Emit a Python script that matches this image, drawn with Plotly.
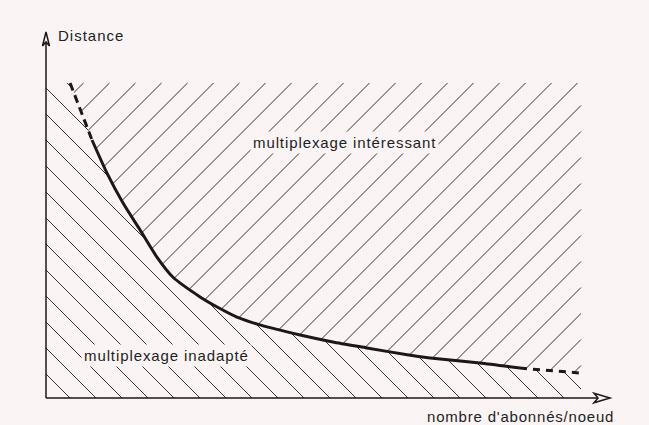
import numpy as np
import plotly.graph_objects as go

# ---------------- data (conceptual units, 0-100 on each axis) ----------------
abonnes = [4.5, 7.9, 8.6, 11.4, 14.4, 17.6, 20.7, 23.7, 28.8, 32.0, 35.7,
           40.0, 47.5, 53.6, 60.0, 67.5, 71.8, 81.1, 88.6, 100.0]
distance = [100.0, 85.1, 81.9, 71.4, 61.9, 53.3, 44.8, 38.4, 32.1, 28.9, 25.7,
            23.2, 20.0, 17.8, 15.9, 13.7, 12.7, 11.1, 9.5, 7.9]
SOLID_START, SOLID_END = 2, 18          # indices where the curve is drawn solid
X_MAX, Y_MAX = 100.0, 100.0             # extent of the hatched zones

x_axis_label = "nombre d'abonnés/noeud"
y_axis_label = "Distance"
zone_haut = "multiplexage intéressant"
zone_bas = "multiplexage inadapté"

# ---------------- layout geometry / styles ----------------
W, H = 649, 425
X0_PX, X100_PX = 46, 581
Y0_PX, Y100_PX = 398, 83
sx = (X100_PX - X0_PX) / 100.0
sy = (Y0_PX - Y100_PX) / 100.0

HATCH_STEP = 26.0        # horizontal spacing of hatch lines (px)
PHASE_UP = 10.5          # (px + py) mod step for "/" lines
PHASE_LOW = 10.0         # (px - py) mod step for "\" lines


def to_x(px):
    return (px - X0_PX) / sx


def to_y(py):
    return (Y0_PX - py) / sy


def px_x(v):
    return X0_PX + np.asarray(v, dtype=float) * sx


def px_y(v):
    return Y0_PX - np.asarray(v, dtype=float) * sy


BG = "#fbf4f4"
HATCH = "#3a3232"
INK = "#1c1818"
TXT = "#221e1e"
FONT = "Liberation Sans, Arial, sans-serif"

# ---------------- hatch geometry derived from the curve ----------------
cx = px_x(abonnes)
cy = px_y(distance)
left_px, right_px = px_x(0), px_x(X_MAX)
top_px, bot_px = px_y(Y_MAX), px_y(0)


def curve_py(p):
    return np.interp(p, cx, cy)


def in_upper(p, q):
    return (p >= cx[0]) & (p <= right_px) & (q >= top_px) & (q <= curve_py(p))


def in_lower(p, q):
    top = np.where(p < cx[0], top_px, curve_py(p))
    return (p >= left_px) & (p <= right_px) & (q <= bot_px) & (q >= top)


def hatch(direction, phase, inside):
    xs, ys = [], []
    p = np.arange(left_px - 1, right_px + 1, 0.05)
    if direction == "/":
        cmin, cmax = left_px + top_px, right_px + bot_px
    else:
        cmin, cmax = left_px - bot_px, right_px - top_px
    k0 = int(np.floor((cmin - phase) / HATCH_STEP)) - 1
    k1 = int(np.ceil((cmax - phase) / HATCH_STEP)) + 1
    for k in range(k0, k1 + 1):
        c = phase + k * HATCH_STEP
        q = c - p if direction == "/" else p - c
        m = inside(p, q)
        if not m.any():
            continue
        idx = np.flatnonzero(m)
        breaks = np.flatnonzero(np.diff(idx) > 1)
        starts = np.r_[idx[0], idx[breaks + 1]]
        ends = np.r_[idx[breaks], idx[-1]]
        for s, e in zip(starts, ends):
            if e - s < 4:
                continue
            xs += [to_x(p[s]), to_x(p[e]), None]
            ys += [to_y(q[s]), to_y(q[e]), None]
    return xs, ys


ux, uy = hatch("/", PHASE_UP, in_upper)
lx, ly = hatch("\\", PHASE_LOW, in_lower)

fig = go.Figure()
fig.add_trace(go.Scatter(x=ux, y=uy, mode="lines",
                         line=dict(color=HATCH, width=1), hoverinfo="skip"))
fig.add_trace(go.Scatter(x=lx, y=ly, mode="lines",
                         line=dict(color=HATCH, width=1), hoverinfo="skip"))

# boundary curve: dashed ends, solid middle
fig.add_trace(go.Scatter(
    x=abonnes[:SOLID_START + 1], y=distance[:SOLID_START + 1], mode="lines",
    line=dict(color=INK, width=3, dash="8px,5px"), hoverinfo="skip"))
fig.add_trace(go.Scatter(
    x=abonnes[SOLID_START:SOLID_END + 1], y=distance[SOLID_START:SOLID_END + 1],
    mode="lines", line=dict(color=INK, width=3, shape="spline", smoothing=0.6),
    hoverinfo="skip"))
fig.add_trace(go.Scatter(
    x=abonnes[SOLID_END:], y=distance[SOLID_END:], mode="lines",
    line=dict(color=INK, width=3, dash="7px,6px"), hoverinfo="skip"))

# axes with open arrow heads
shapes = [
    dict(type="line", xref="x", yref="y", x0=0, y0=0, x1=0, y1=to_y(42),
         line=dict(color=INK, width=1.5)),
    dict(type="line", xref="x", yref="y", x0=0, y0=0, x1=to_x(598), y1=0,
         line=dict(color=INK, width=1.5)),
    dict(type="path", xref="x", yref="y",
         path="M%f,%f L%f,%f L%f,%f L%f,%f Z" % (
             to_x(42.5), to_y(46), to_x(46), to_y(32), to_x(49.5), to_y(46),
             to_x(46), to_y(42)),
         line=dict(color=INK, width=1.5), fillcolor=BG),
    dict(type="path", xref="x", yref="y",
         path="M%f,%f L%f,%f L%f,%f L%f,%f Z" % (
             to_x(594), to_y(393.3), to_x(610), to_y(398), to_x(594), to_y(402.7),
             to_x(598), to_y(398)),
         line=dict(color=INK, width=1.5), fillcolor=BG),
]


def spaced(t, ls):
    return '<span style="letter-spacing:%spx">%s</span>' % (ls, t)


annotations = [
    dict(text=spaced(y_axis_label, 1.0), x=to_x(56), y=to_y(35.5),
         xanchor="left", yanchor="middle", showarrow=False,
         font=dict(family=FONT, size=15, color=TXT)),
    dict(text=spaced(zone_haut, 0.9), x=to_x(250), y=to_y(142.5),
         xanchor="left", yanchor="middle", showarrow=False, bgcolor=BG, borderpad=2,
         font=dict(family=FONT, size=15, color=TXT)),
    dict(text=spaced(zone_bas, 0.9), x=to_x(81), y=to_y(355.5),
         xanchor="left", yanchor="middle", showarrow=False, bgcolor=BG, borderpad=2,
         font=dict(family=FONT, size=15, color=TXT)),
    dict(text=spaced(x_axis_label, 0.8), x=to_x(425), y=to_y(416.5),
         xanchor="left", yanchor="middle", showarrow=False,
         font=dict(family=FONT, size=15, color=TXT)),
]

fig.update_layout(
    width=W, height=H,
    margin=dict(l=0, r=0, t=0, b=0, pad=0),
    paper_bgcolor=BG, plot_bgcolor=BG,
    showlegend=False,
    xaxis=dict(range=[to_x(0), to_x(W)], visible=False, fixedrange=True),
    yaxis=dict(range=[to_y(H), to_y(0)], visible=False, fixedrange=True),
    shapes=shapes, annotations=annotations,
)

fig.write_html(
    "out.html",
    config={"displayModeBar": False},
    post_script=("document.body.style.margin='0';"
                 "document.body.style.overflow='hidden';"
                 "document.body.style.background='%s';" % BG),
)
